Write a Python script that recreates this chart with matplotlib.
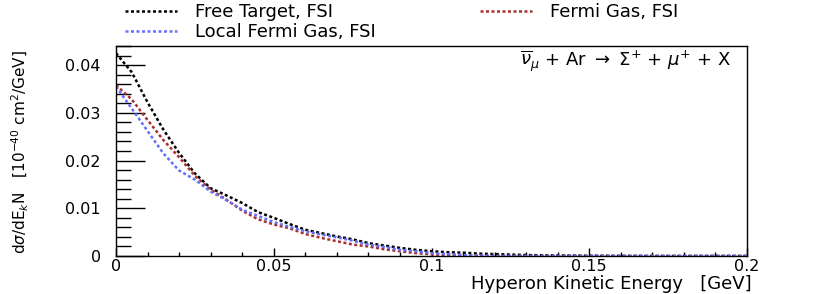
import numpy as np
import matplotlib
matplotlib.use("Agg")
import matplotlib.pyplot as plt
from matplotlib.ticker import MultipleLocator, FuncFormatter

# kinetic energy (GeV)
ek = [0, 0.005, 0.01, 0.015, 0.02, 0.025, 0.03, 0.035, 0.04, 0.045, 0.05,
      0.055, 0.06, 0.065, 0.07, 0.075, 0.08, 0.085, 0.09, 0.095, 0.1,
      0.105, 0.11, 0.115, 0.12, 0.125, 0.13, 0.14, 0.15, 0.16, 0.17, 0.18, 0.19, 0.2]

# free target, FSI
free = [0.0425, 0.0385, 0.0322, 0.0265, 0.0216, 0.0173, 0.0142, 0.0127, 0.0111, 0.0092, 0.0080,
        0.0067, 0.0055, 0.0048, 0.0041, 0.0035, 0.0027, 0.0022, 0.0017, 0.0013, 0.0010,
        0.0008, 0.0007, 0.0005, 0.0004, 0.0003, 0.0002, 0.0001, 0.00005, 0.00002, 0, 0, 0, 0]

# fermi gas, FSI
fg = [0.0358, 0.0328, 0.0285, 0.0243, 0.0207, 0.0168, 0.0139, 0.0118, 0.0095, 0.0077, 0.0066,
      0.0058, 0.0046, 0.0038, 0.0031, 0.0024, 0.0020, 0.0014, 0.0010, 0.0006, 0.00035,
      0.0002, 0.0001, 0.00005, 0, 0, 0, 0, 0, 0, 0, 0, 0, 0]

# local fermi gas, FSI
lfg = [0.0355, 0.0309, 0.0262, 0.0215, 0.0179, 0.0160, 0.0135, 0.0117, 0.0097, 0.0084, 0.0071,
       0.0061, 0.0052, 0.0045, 0.0039, 0.0032, 0.0024, 0.0019, 0.0013, 0.0010, 0.0006,
       0.0004, 0.0002, 0.0001, 0, 0, 0, 0, 0, 0, 0, 0, 0, 0]

plt.rcParams['font.family'] = ['DejaVu Sans']

fig = plt.figure(figsize=(8.3, 2.94), dpi=100)
ax = fig.add_axes([116/830, 38/294, 631/830, 210/294])

ls = (0, (1.2, 1.0))
l1, = ax.plot(ek, free, color='black', lw=1.8, linestyle=ls)
l2, = ax.plot(ek, fg, color='#a83030', lw=1.8, linestyle=ls)
l3, = ax.plot(ek, lfg, color='#6670ff', lw=1.8, linestyle=ls)

ax.set_xlim(0, 0.2)
ax.set_ylim(0, 0.044)

ax.xaxis.set_major_locator(MultipleLocator(0.05))
ax.xaxis.set_minor_locator(MultipleLocator(0.01))
ax.yaxis.set_major_locator(MultipleLocator(0.01))
ax.yaxis.set_minor_locator(MultipleLocator(0.002))
fmt = FuncFormatter(lambda v, p: '0' if abs(v) < 1e-12 else '%g' % v)
ax.xaxis.set_major_formatter(fmt)
ax.yaxis.set_major_formatter(fmt)

ax.tick_params(axis='both', which='both', direction='in', top=False, right=False, labelsize=11.5)
ax.tick_params(axis='y', which='major', length=21, width=1, pad=11)
ax.tick_params(axis='y', which='minor', length=10.5, width=1)
ax.tick_params(axis='x', which='major', length=6, width=1, pad=2)
ax.tick_params(axis='x', which='minor', length=3, width=1)
for s in ax.spines.values():
    s.set_linewidth(1)

ax.set_xlabel('Hyperon Kinetic Energy   [GeV]', fontsize=13, ha='right', va='baseline')
ax.xaxis.set_label_coords(1.008, -0.158)
fig.text(20/830, 1 - 152/294, r'd$\sigma$/dE$_{k}$N   [10$^{-40}$ cm$^{2}$/GeV]',
         rotation=90, ha='center', va='center', fontsize=11)

ax.text(0.975, 0.925, r'$\overline{\nu}_{\mu}$ + Ar $\rightarrow$ $\Sigma^{+}$ + $\mu^{+}$ + X',
        transform=ax.transAxes, ha='right', va='center', fontsize=13)

leg1 = fig.legend([l1, l3], ['Free Target, FSI', 'Local Fermi Gas, FSI'],
                  loc='upper left', bbox_to_anchor=(125/830, 1 - 3/294), frameon=False,
                  fontsize=13, handlelength=2.9, handletextpad=1.0, labelspacing=0.12,
                  borderpad=0, borderaxespad=0)
leg2 = fig.legend([l2], ['Fermi Gas, FSI'],
                  loc='upper left', bbox_to_anchor=(480/830, 1 - 3/294), frameon=False,
                  fontsize=13, handlelength=2.9, handletextpad=1.0,
                  borderpad=0, borderaxespad=0)

plt.savefig('out.png', dpi=100)
